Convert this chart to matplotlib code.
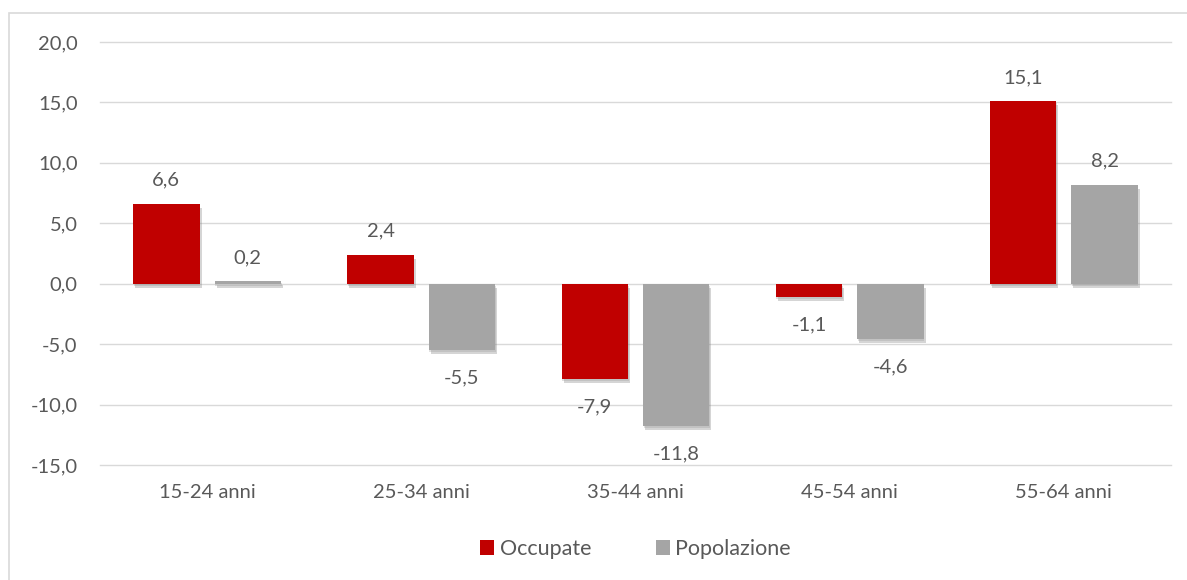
import matplotlib.pyplot as plt
import matplotlib.patheffects as pe
from matplotlib.patches import Rectangle, Patch
import numpy as np

plt.rcParams['font.family'] = ['Lato', 'DejaVu Sans']

categories = ['15-24 anni', '25-34 anni', '35-44 anni', '45-54 anni', '55-64 anni']
occupate = [6.6, 2.4, -7.9, -1.1, 15.1]
popolazione = [0.2, -5.5, -11.8, -4.6, 8.2]
yticks = [-15, -10, -5, 0, 5, 10, 15, 20]

red = '#C00000'
grey = '#A5A5A5'
text_col = '#595959'

fig = plt.figure(figsize=(11.87, 5.8), dpi=100)
ax = fig.add_axes([0.0842, 0.1983, 0.9023, 0.7293])

# chart border (right and bottom run off the image)
fig.patches.append(Rectangle((9.5 / 1187, -0.05), 1.2, 1 - 12.5 / 580 + 0.05,
                             transform=fig.transFigure, fill=False,
                             edgecolor='#d9d9d9', linewidth=1.2))

x = np.arange(len(categories))
w = 0.31
off = 0.19
shadow = [pe.SimplePatchShadow(offset=(1.5, -3), shadow_rgbFace='#777777', alpha=0.3),
          pe.SimplePatchShadow(offset=(0.5, -1.5), shadow_rgbFace='#999999', alpha=0.3),
          pe.Normal()]

b1 = ax.bar(x - off, occupate, w, color=red, zorder=3)
b2 = ax.bar(x + off, popolazione, w, color=grey, zorder=3)
for bars in (b1, b2):
    for b in bars:
        b.set_path_effects(shadow)

for bars, vals in ((b1, occupate), (b2, popolazione)):
    for b, v in zip(bars, vals):
        cx = b.get_x() + b.get_width() / 2
        dy = 17 if v >= 0 else -20
        ax.annotate(f'{v:.1f}'.replace('.', ','), (cx, v), xytext=(0, dy),
                    textcoords='offset points', ha='center', va='center',
                    fontsize=14.5, color=text_col)

ax.set_xlim(-0.5, 4.5)
ax.set_ylim(-15, 20)
ax.set_yticks(yticks)
ax.set_yticklabels([f'{t:.1f}'.replace('.', ',') for t in yticks])
ax.set_xticks(x)
ax.set_xticklabels(categories)
ax.tick_params(axis='both', length=0, labelsize=14.5, labelcolor=text_col)
ax.tick_params(axis='y', pad=16)
ax.tick_params(axis='x', pad=14)
ax.grid(axis='y', color='#d9d9d9', linewidth=1.0, zorder=0)
for gl in ax.get_ygridlines():
    gl.set_clip_on(False)
ax.set_axisbelow(True)
for s in ax.spines.values():
    s.set_visible(False)

handles = [Patch(facecolor=red, label='Occupate'), Patch(facecolor=grey, label='Popolazione')]
leg = ax.legend(handles=handles, loc='center', bbox_to_anchor=(0.5, -0.199), ncol=2,
                frameon=False, fontsize=15.5, handlelength=0.65, handleheight=0.65,
                handletextpad=0.25, columnspacing=3.0)
for t in leg.get_texts():
    t.set_color(text_col)

plt.savefig('out.png', dpi=100)
